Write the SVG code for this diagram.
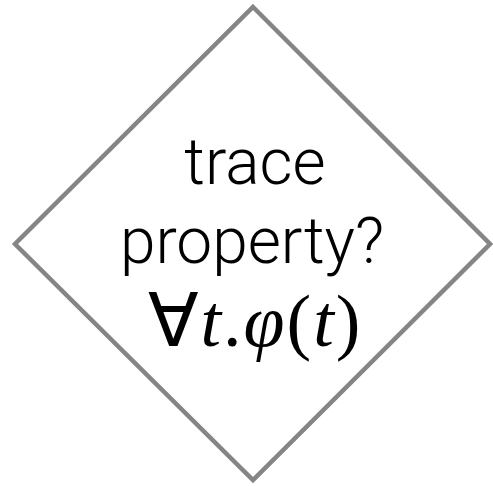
<svg xmlns="http://www.w3.org/2000/svg" width="493" height="486" viewBox="0 0 493 486">
<style>
.shape{fill:#ffffff;stroke:#858585;stroke-width:4.5;stroke-linejoin:miter}
.lbl{font-family:Roboto,"Liberation Sans",Arial,sans-serif;font-weight:300;font-size:64px;fill:#000000;text-anchor:middle}
.math{font-family:"Liberation Serif","Times New Roman",serif;font-size:74px;letter-spacing:2px;fill:#000000;text-anchor:middle}
</style>
<rect width="493" height="486" fill="#ffffff"/>
<g id="node-decision">
<polygon class="shape" points="253,7 490,244 253,480 15,244"/>
<text class="lbl" x="255" y="184">trace</text>
<text class="lbl" x="252" y="263">property?</text>
<text class="math" x="255" y="346">∀<tspan font-style="italic">t</tspan>.<tspan font-style="italic">φ</tspan>(<tspan font-style="italic">t</tspan>)</text>
</g>
<g id="connectors"/>
</svg>
